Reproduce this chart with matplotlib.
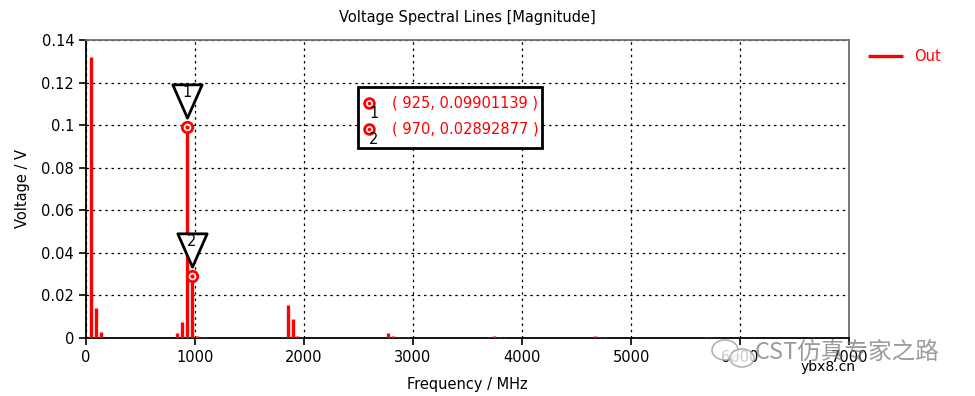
import matplotlib
matplotlib.use("Agg")
from matplotlib import pyplot as plt
from matplotlib.path import Path
from matplotlib.patches import Ellipse
import numpy as np

# spectral lines (MHz, V)
freq = [45, 90, 135, 835, 880, 925, 970, 1015, 1060, 1105,
        1805, 1850, 1895, 1940, 1985,
        2775, 2820, 2865, 2910, 2955,
        3700, 3745, 3790, 3835,
        4670, 4715, 4760,
        5690, 5735, 6660]
volt = [0.132, 0.0141, 0.0030, 0.0025, 0.0075, 0.09901139, 0.02892877, 0.0010, 0.0006, 0.0004,
        0.0003, 0.0155, 0.0088, 0.0010, 0.0006,
        0.0022, 0.0010, 0.0007, 0.0004, 0.0003,
        0.0006, 0.0010, 0.0005, 0.0003,
        0.0008, 0.0004, 0.0003,
        0.0003, 0.0003, 0.0003]

marker_freq = [925, 970]
marker_volt = [0.09901139, 0.02892877]
marker_ids = ["1", "2"]

xticks = [0, 1000, 2000, 3000, 4000, 5000, 6000, 7000]
yticks = [0, 0.02, 0.04, 0.06, 0.08, 0.1, 0.12, 0.14]
ytick_labels = ["0", "0.02", "0.04", "0.06", "0.08", "0.1", "0.12", "0.14"]

plt.rcParams['font.family'] = ['DejaVu Sans', 'Noto Sans CJK SC']

fig = plt.figure(figsize=(9.75, 3.96), dpi=100)
ax = fig.add_axes([86 / 975, (396 - 338) / 396, (849 - 86) / 975, (338 - 40) / 396])

ax.vlines(freq, 0, volt, colors='red', linewidth=2.4, label='Out', zorder=3)

ax.set_xlim(0, 7000)
ax.set_ylim(0, 0.14)
ax.set_xticks(xticks)
ax.set_yticks(yticks)
ax.set_yticklabels(ytick_labels)
ax.tick_params(direction='out', length=5, width=1.2, labelsize=10.5, colors='black')
ax.grid(True, color='black', linestyle=(0, (2, 3)), linewidth=0.9)
ax.spines['left'].set_color('black')
ax.spines['bottom'].set_color('black')
ax.spines['top'].set_color('#707070')
ax.spines['right'].set_color('#707070')
for s in ax.spines.values():
    s.set_linewidth(1.3)

ax.set_title("Voltage Spectral Lines [Magnitude]", fontsize=10.5, pad=13)
ax.set_xlabel("Frequency / MHz", fontsize=10.5, labelpad=9)
ax.set_ylabel("Voltage / V", fontsize=10.5, labelpad=8)

# inverted triangle marker label
tri = Path([(-0.44, 0.5), (0.44, 0.5), (0.0, -0.5), (-0.44, 0.5)],
           [Path.MOVETO, Path.LINETO, Path.LINETO, Path.CLOSEPOLY])

for f, v, n in zip(marker_freq, marker_volt, marker_ids):
    ax.plot([f], [v], 'o', ms=7.5, mfc='white', mec='red', mew=2, zorder=5)
    ax.plot([f], [v], 'o', ms=2, color='red', zorder=6)
    ax.plot([f], [v], linestyle='none', marker=tri, ms=24, mfc='white', mec='black', mew=2,
            zorder=6, transform=ax.transData + matplotlib.transforms.ScaledTranslation(
                0, 19 / 72, fig.dpi_scale_trans))
    ax.annotate(n, xy=(f, v), xytext=(0, 25), textcoords='offset points',
                ha='center', va='center', fontsize=10.5, zorder=8)

# marker value box
box = plt.Rectangle((0.357, 0.638), 0.241, 0.204, transform=ax.transAxes,
                    facecolor='white', edgecolor='black', linewidth=2, zorder=8)
ax.add_patch(box)
for yy, f, v, n in zip([0.789, 0.701], marker_freq, marker_volt, marker_ids):
    ax.text(0.401, yy, "( %d, %.8f )" % (f, v), transform=ax.transAxes,
            color='red', fontsize=10.5, va='center', ha='left', zorder=9)
    ax.plot([0.371], [yy], 'o', ms=7, mfc='white', mec='red', mew=2,
            transform=ax.transAxes, zorder=9)
    ax.plot([0.371], [yy], 'o', ms=1.5, color='red', transform=ax.transAxes, zorder=10)
    ax.text(0.377, yy - 0.035, n, transform=ax.transAxes, fontsize=10.5,
            ha='center', va='center', zorder=10)

# legend at right
fig.legend(loc='upper left', bbox_to_anchor=(862 / 975, 1 - 43 / 396), frameon=False,
           fontsize=10.5, labelcolor='red', handlelength=2.4, borderaxespad=0)

# watermark
for cx, cy, w, h in [(725, 350, 26, 20), (742, 358, 24, 18)]:
    fig.patches.append(Ellipse((cx / 975, 1 - cy / 396), w / 975, h / 396, transform=fig.transFigure,
                               facecolor='white', edgecolor='#a0a0a0', linewidth=1.2, alpha=0.8))
fig.text(755 / 975, 1 - 352 / 396, "CST仿真专家之路", color='#7a7a7a', fontsize=17,
         family=['Noto Sans CJK SC', 'DejaVu Sans'], va='center', ha='left', alpha=0.75)
fig.text(828 / 975, 1 - 367 / 396, "ybx8.cn", color='black', fontsize=10, va='center', ha='center')

fig.savefig("out.png", dpi=100)
